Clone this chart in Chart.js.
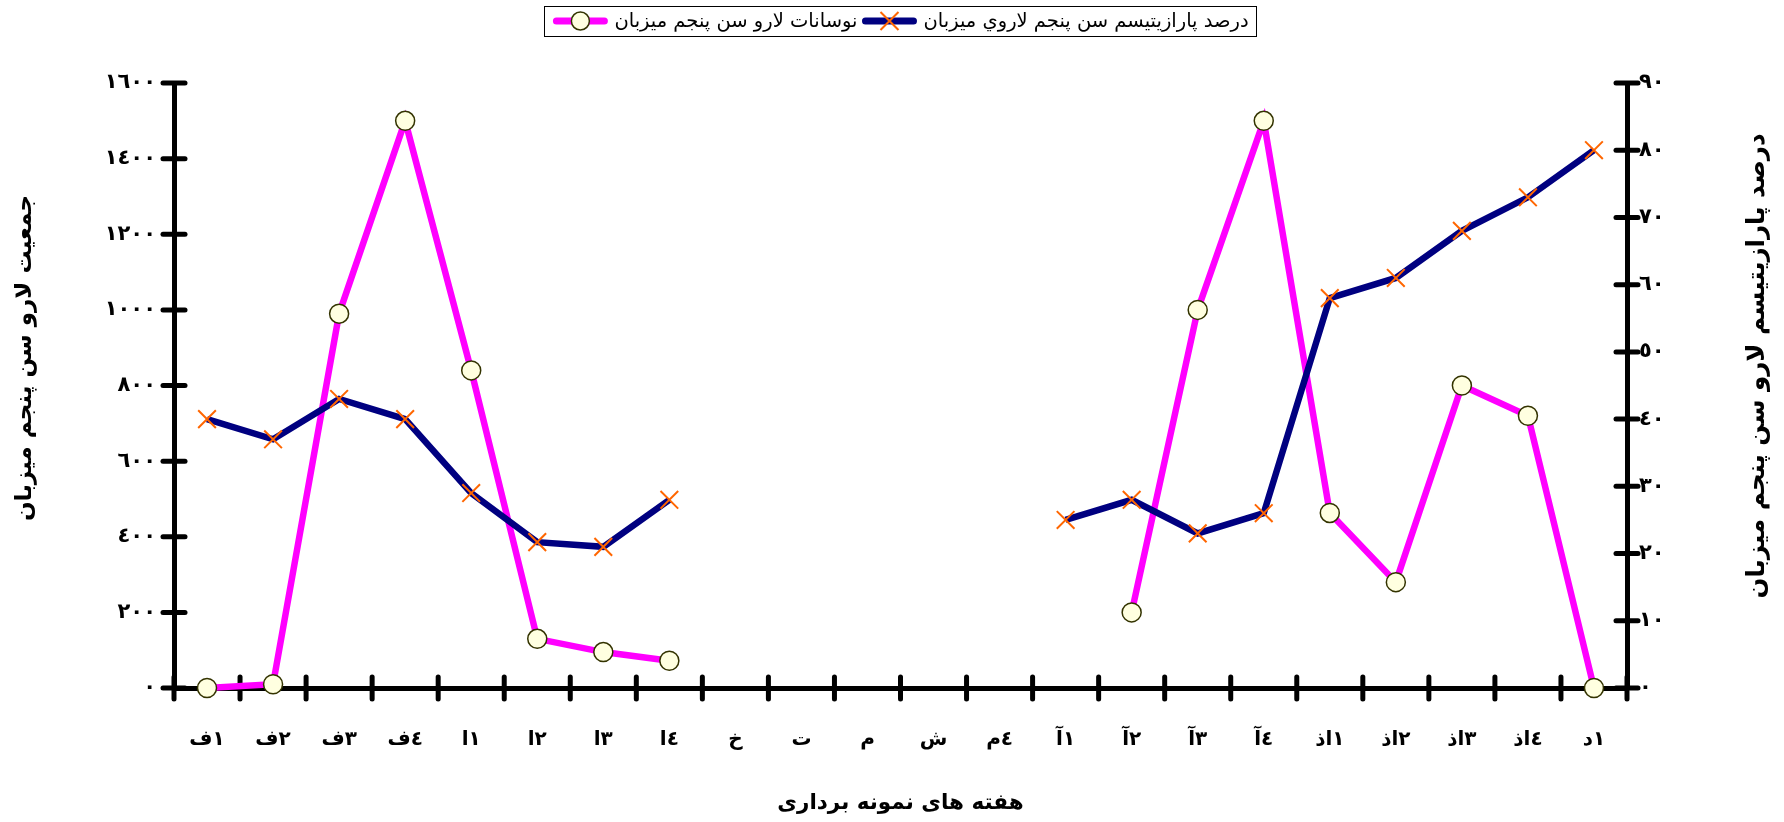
<!DOCTYPE html>
<html lang="fa">
<head>
  <meta charset="UTF-8">
  <title>نوسانات لارو سن پنجم ميزبان</title>
  <script src="https://cdn.jsdelivr.net/npm/chart.js"></script>
  <style>
    html, body { margin: 0; padding: 0; background: #fff; }
    .chart-container { width: 1784px; height: 822px; }
  </style>
</head>
<body>
  <div class="chart-container"><canvas id="chartCanvas"></canvas></div>

  <script>
    // هفته ها (ترتیب نمایش: حرف سمت چپ، عدد سمت راست)
    const weeks = ['ف١', 'ف٢', 'ف٣', 'ف٤', 'ا١', 'ا٢', 'ا٣', 'ا٤', 'خ', 'ت', 'م', 'ش', 'م٤',
      'آ١', 'آ٢', 'آ٣', 'آ٤', 'ذا١', 'ذا٢', 'ذا٣', 'ذا٤', 'د١'];

    // جمعیت لارو سن پنجم میزبان (محور چپ)
    const larvaPopulation = [0, 10, 990, 1500, 840, 130, 95, 72, null, null, null, null, null,
      null, 200, 1000, 1500, 463, 280, 800, 720, 0];

    // درصد پارازیتیسم (محور راست)
    const parasitism = [40, 37, 43, 40, 29, 21.7, 21, 28, null, null, null, null, null,
      25, 28, 23, 26, 58, 61, 68, 73, 80];

    const leftTickLabels = ['٠', '٢٠٠', '٤٠٠', '٦٠٠', '٨٠٠', '١٠٠٠', '١٢٠٠', '١٤٠٠', '١٦٠٠'];
    const rightTickLabels = ['٠', '١٠', '٢٠', '٣٠', '٤٠', '٥٠', '٦٠', '٧٠', '٨٠', '٩٠'];

    const larvaLabel = 'نوسانات لارو سن پنجم ميزبان';
    const parasitismLabel = 'درصد پارازيتيسم سن پنجم لاروي ميزبان';
    const leftTitle = 'جمعيت لارو سن پنجم ميزبان';
    const rightTitle = 'درصد پارازيتيسم لارو سن پنجم ميزبان';
    const xTitle = 'هفته های نمونه برداری';

    const FONT = '"DejaVu Sans", sans-serif';
    Chart.defaults.font.family = FONT;
    Chart.defaults.color = '#000';

    // keep visual order left-to-right (letter on the left, digit on the right)
    const ltr = s => Array.from(s).join('\u200E');

    function drawMarker(ctx, ds, x, y) {
      if (ds.pointStyle === 'circle') {
        ctx.beginPath();
        ctx.arc(x, y, 9, 0, Math.PI * 2);
        ctx.fillStyle = ds.pointBackgroundColor;
        ctx.fill();
        ctx.lineWidth = ds.pointBorderWidth;
        ctx.strokeStyle = ds.pointBorderColor;
        ctx.stroke();
      } else {
        const r = 9;
        ctx.beginPath();
        ctx.moveTo(x - r, y - r); ctx.lineTo(x + r, y + r);
        ctx.moveTo(x + r, y - r); ctx.lineTo(x - r, y + r);
        ctx.lineWidth = ds.pointBorderWidth;
        ctx.strokeStyle = ds.pointBorderColor;
        ctx.stroke();
      }
    }

    // legend in a framed box, marker = short line with point
    const legendBox = {
      id: 'legendBox',
      afterDraw(chart) {
        const ctx = chart.ctx;
        const area = chart.chartArea;
        ctx.save();
        ctx.font = '19.5px ' + FONT;
        const dsets = chart.data.datasets;
        const mw = 56, pad = 8, gap = 6, after = 4;
        const widths = dsets.map(d => ctx.measureText(d.label).width);
        let total = pad;
        widths.forEach(w => { total += mw + gap + w + after; });
        total += pad - after;
        let x = (area.left + area.right) / 2 - total / 2;
        const top = 6, h = 30, cy = top + h / 2;
        ctx.lineWidth = 1;
        ctx.strokeStyle = '#000';
        ctx.strokeRect(Math.round(x) + 0.5, top + 0.5, Math.round(total), h);
        x += pad;
        dsets.forEach((d, i) => {
          ctx.beginPath();
          ctx.moveTo(x + 4, cy);
          ctx.lineTo(x + mw - 4, cy);
          ctx.lineWidth = 7;
          ctx.lineCap = 'round';
          ctx.strokeStyle = d.borderColor;
          ctx.stroke();
          ctx.lineCap = 'butt';
          drawMarker(ctx, d, x + mw / 2, cy);
          x += mw + gap;
          ctx.fillStyle = '#000';
          ctx.textAlign = 'left';
          ctx.textBaseline = 'middle';
          ctx.fillText(d.label, x, cy + 1);
          x += widths[i] + after;
        });
        ctx.restore();
      }
    };

    // cross tick marks on all three axes
    const crossTicks = {
      id: 'crossTicks',
      beforeDatasetsDraw(chart) {
        const { ctx, scales: { x, y, y1 } } = chart;
        const L = 11;
        ctx.save();
        ctx.strokeStyle = '#000';
        ctx.lineWidth = 5;
        ctx.lineCap = 'round';
        const seg = (a, b, c, d) => { ctx.beginPath(); ctx.moveTo(a, b); ctx.lineTo(c, d); ctx.stroke(); };
        y.ticks.forEach(t => { const p = y.getPixelForValue(t.value); seg(y.right - L, p, y.right + L, p); });
        y1.ticks.forEach(t => { const p = y1.getPixelForValue(t.value); seg(y1.left - L, p, y1.left + L, p); });
        const step = x.getPixelForValue(1) - x.getPixelForValue(0);
        for (let i = 0; i <= weeks.length; i++) {
          const p = x.getPixelForValue(0) - step / 2 + i * step;
          seg(p, x.top - L, p, x.top + L);
        }
        ctx.restore();
      }
    };

    // axis titles (both vertical ones read bottom-to-top like the original)
    const axisTitles = {
      id: 'axisTitles',
      afterDraw(chart) {
        const ctx = chart.ctx;
        const area = chart.chartArea;
        ctx.save();
        ctx.fillStyle = '#000';
        ctx.textAlign = 'center';
        ctx.textBaseline = 'middle';
        [[25, 358, leftTitle, 23], [1758, 366, rightTitle, 24.5]].forEach(([tx, ty, txt, size]) => {
          ctx.save();
          ctx.font = 'bold ' + size + 'px ' + FONT;
          ctx.translate(tx, ty);
          ctx.rotate(-Math.PI / 2);
          ctx.fillText(txt, 0, 0);
          ctx.restore();
        });
        ctx.font = 'bold 21.5px ' + FONT;
        ctx.fillText(xTitle, (area.left + area.right) / 2, 803);
        ctx.restore();
      }
    };

    const ctx = document.getElementById('chartCanvas').getContext('2d');
    new Chart(ctx, {
      type: 'line',
      data: {
        labels: weeks.map(ltr),
        datasets: [
          {
            label: larvaLabel,
            data: larvaPopulation,
            yAxisID: 'y',
            borderColor: '#FF00FF',
            borderWidth: 6.5,
            pointStyle: 'circle',
            pointRadius: 9.5,
            pointBackgroundColor: '#FFFFE0',
            pointBorderColor: '#333300',
            pointBorderWidth: 1.5,
            tension: 0,
            clip: false,
            order: 2
          },
          {
            label: parasitismLabel,
            data: parasitism,
            yAxisID: 'y1',
            borderColor: '#000080',
            borderWidth: 6.5,
            pointStyle: 'crossRot',
            pointRadius: 12.5,
            pointBorderColor: '#FF6600',
            pointBorderWidth: 2,
            tension: 0,
            clip: false,
            order: 1
          }
        ]
      },
      options: {
        responsive: true,
        maintainAspectRatio: false,
        animation: false,
        layout: { padding: { top: 83, left: 0, right: 0, bottom: 0 } },
        plugins: {
          legend: { display: false },
          tooltip: { enabled: false }
        },
        scales: {
          x: {
            offset: true,
            grid: { display: false, drawTicks: false },
            border: { display: true, width: 5, color: '#000' },
            ticks: {
              padding: 40,
              maxRotation: 0,
              autoSkip: false,
              font: { size: 20, weight: 'bold' }
            },
            afterFit: s => { s.height = 134; }
          },
          y: {
            position: 'left',
            min: 0,
            max: 1600,
            grid: { display: false, drawTicks: false },
            border: { display: true, width: 5, color: '#000' },
            ticks: {
              stepSize: 200,
              padding: 18,
              font: { size: 21, weight: 'bold' },
              callback: (v, i) => leftTickLabels[i]
            },
            afterFit: s => { s.width = 174; }
          },
          y1: {
            position: 'right',
            min: 0,
            max: 90,
            grid: { display: false, drawTicks: false },
            border: { display: true, width: 5, color: '#000' },
            ticks: {
              stepSize: 10,
              padding: 12,
              font: { size: 21, weight: 'bold' },
              callback: (v, i) => rightTickLabels[i]
            },
            afterFit: s => { s.width = 157; }
          }
        }
      },
      plugins: [crossTicks, legendBox, axisTitles]
    });
  </script>
</body>
</html>
